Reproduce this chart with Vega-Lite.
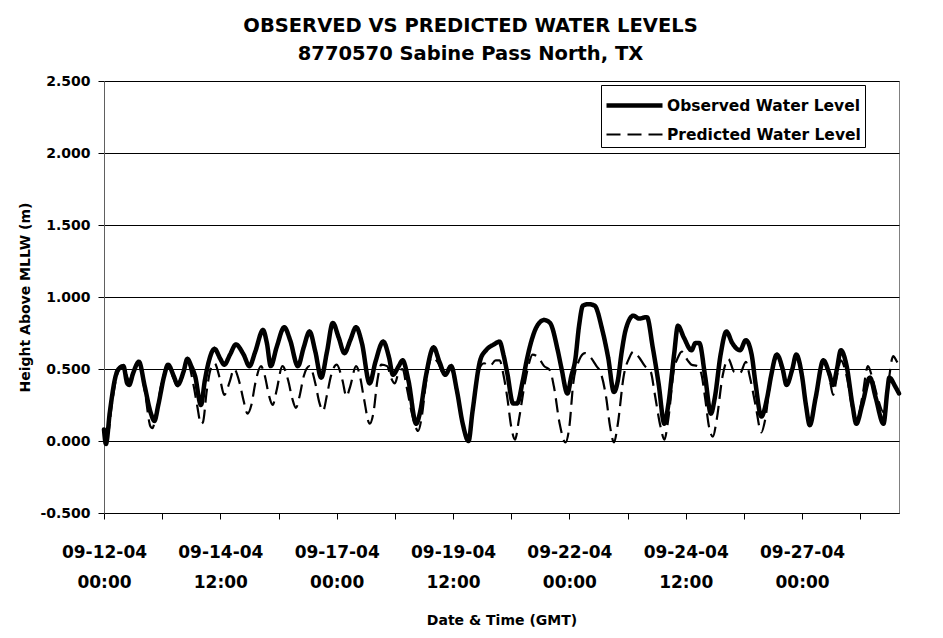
{
  "$schema": "https://vega.github.io/schema/vega-lite/v6.json",
  "width": 795,
  "height": 432,
  "autosize": {"type": "none"},
  "padding": {"left": 104, "top": 81, "right": 44, "bottom": 125},
  "background": "white",
  "config": {
    "font": "DejaVu Sans",
    "view": {"stroke": "#808080", "strokeWidth": 1}
  },
  "title": {
    "text": ["OBSERVED VS PREDICTED WATER LEVELS", "8770570 Sabine Pass North, TX"],
    "font": "DejaVu Sans",
    "fontSize": 19.5,
    "fontWeight": "bold",
    "color": "black",
    "lineHeight": 28,
    "anchor": "middle",
    "dx": -31,
    "offset": 10
  },
  "data": {"values": [
    {"s":"O","t":"2004-09-12T00:00Z","v":0.08},{"s":"O","t":"2004-09-12T01:00Z","v":-0.02},{"s":"O","t":"2004-09-12T03:00Z","v":0.20},{"s":"O","t":"2004-09-12T06:00Z","v":0.45},{"s":"O","t":"2004-09-12T07:00Z","v":0.49},{"s":"O","t":"2004-09-12T10:00Z","v":0.52},{"s":"O","t":"2004-09-12T12:00Z","v":0.40},{"s":"O","t":"2004-09-12T13:00Z","v":0.39},{"s":"O","t":"2004-09-12T15:00Z","v":0.47},{"s":"O","t":"2004-09-12T18:00Z","v":0.55},{"s":"O","t":"2004-09-12T21:00Z","v":0.38},
    {"s":"O","t":"2004-09-13T00:00Z","v":0.20},{"s":"O","t":"2004-09-13T02:00Z","v":0.14},{"s":"O","t":"2004-09-13T04:00Z","v":0.25},{"s":"O","t":"2004-09-13T07:00Z","v":0.45},{"s":"O","t":"2004-09-13T09:00Z","v":0.53},{"s":"O","t":"2004-09-13T12:00Z","v":0.45},{"s":"O","t":"2004-09-13T14:00Z","v":0.39},{"s":"O","t":"2004-09-13T17:00Z","v":0.48},{"s":"O","t":"2004-09-13T19:00Z","v":0.57},{"s":"O","t":"2004-09-13T21:00Z","v":0.52},{"s":"O","t":"2004-09-13T23:00Z","v":0.45},
    {"s":"O","t":"2004-09-14T02:00Z","v":0.25},{"s":"O","t":"2004-09-14T04:00Z","v":0.42},{"s":"O","t":"2004-09-14T06:00Z","v":0.55},{"s":"O","t":"2004-09-14T09:00Z","v":0.64},{"s":"O","t":"2004-09-14T12:00Z","v":0.57},{"s":"O","t":"2004-09-14T14:00Z","v":0.53},{"s":"O","t":"2004-09-14T17:00Z","v":0.60},{"s":"O","t":"2004-09-14T20:00Z","v":0.67},
    {"s":"O","t":"2004-09-15T00:00Z","v":0.60},{"s":"O","t":"2004-09-15T03:00Z","v":0.52},{"s":"O","t":"2004-09-15T06:00Z","v":0.62},{"s":"O","t":"2004-09-15T10:00Z","v":0.77},{"s":"O","t":"2004-09-15T12:00Z","v":0.68},{"s":"O","t":"2004-09-15T14:00Z","v":0.52},{"s":"O","t":"2004-09-15T17:00Z","v":0.65},{"s":"O","t":"2004-09-15T21:00Z","v":0.79},
    {"s":"O","t":"2004-09-16T00:00Z","v":0.70},{"s":"O","t":"2004-09-16T04:00Z","v":0.52},{"s":"O","t":"2004-09-16T07:00Z","v":0.65},{"s":"O","t":"2004-09-16T10:00Z","v":0.76},{"s":"O","t":"2004-09-16T13:00Z","v":0.62},{"s":"O","t":"2004-09-16T16:00Z","v":0.44},{"s":"O","t":"2004-09-16T19:00Z","v":0.62},{"s":"O","t":"2004-09-16T22:00Z","v":0.82},
    {"s":"O","t":"2004-09-17T01:00Z","v":0.72},{"s":"O","t":"2004-09-17T04:00Z","v":0.61},{"s":"O","t":"2004-09-17T07:00Z","v":0.70},{"s":"O","t":"2004-09-17T10:00Z","v":0.79},{"s":"O","t":"2004-09-17T13:00Z","v":0.68},{"s":"O","t":"2004-09-17T17:00Z","v":0.40},{"s":"O","t":"2004-09-17T20:00Z","v":0.55},
    {"s":"O","t":"2004-09-18T00:00Z","v":0.69},{"s":"O","t":"2004-09-18T03:00Z","v":0.58},{"s":"O","t":"2004-09-18T05:00Z","v":0.46},{"s":"O","t":"2004-09-18T08:00Z","v":0.52},{"s":"O","t":"2004-09-18T10:00Z","v":0.56},{"s":"O","t":"2004-09-18T13:00Z","v":0.42},{"s":"O","t":"2004-09-18T17:00Z","v":0.12},{"s":"O","t":"2004-09-18T19:00Z","v":0.20},{"s":"O","t":"2004-09-18T22:00Z","v":0.45},
    {"s":"O","t":"2004-09-19T02:00Z","v":0.65},{"s":"O","t":"2004-09-19T05:00Z","v":0.55},{"s":"O","t":"2004-09-19T08:00Z","v":0.46},{"s":"O","t":"2004-09-19T11:00Z","v":0.52},{"s":"O","t":"2004-09-19T14:00Z","v":0.35},{"s":"O","t":"2004-09-19T17:00Z","v":0.12},{"s":"O","t":"2004-09-19T20:00Z","v":0.00},{"s":"O","t":"2004-09-19T22:00Z","v":0.20},
    {"s":"O","t":"2004-09-20T02:00Z","v":0.56},{"s":"O","t":"2004-09-20T05:00Z","v":0.63},{"s":"O","t":"2004-09-20T09:00Z","v":0.67},{"s":"O","t":"2004-09-20T12:00Z","v":0.69},{"s":"O","t":"2004-09-20T14:00Z","v":0.60},{"s":"O","t":"2004-09-20T16:00Z","v":0.47},{"s":"O","t":"2004-09-20T19:00Z","v":0.26},{"s":"O","t":"2004-09-20T21:00Z","v":0.26},
    {"s":"O","t":"2004-09-21T00:00Z","v":0.42},{"s":"O","t":"2004-09-21T02:00Z","v":0.56},{"s":"O","t":"2004-09-21T05:00Z","v":0.72},{"s":"O","t":"2004-09-21T07:00Z","v":0.79},{"s":"O","t":"2004-09-21T11:00Z","v":0.84},{"s":"O","t":"2004-09-21T14:00Z","v":0.82},{"s":"O","t":"2004-09-21T18:00Z","v":0.63},{"s":"O","t":"2004-09-21T20:00Z","v":0.50},{"s":"O","t":"2004-09-21T23:00Z","v":0.33},
    {"s":"O","t":"2004-09-22T01:00Z","v":0.45},{"s":"O","t":"2004-09-22T03:00Z","v":0.56},{"s":"O","t":"2004-09-22T05:00Z","v":0.80},{"s":"O","t":"2004-09-22T07:00Z","v":0.94},{"s":"O","t":"2004-09-22T10:00Z","v":0.95},{"s":"O","t":"2004-09-22T13:00Z","v":0.94},{"s":"O","t":"2004-09-22T17:00Z","v":0.77},{"s":"O","t":"2004-09-22T20:00Z","v":0.58},{"s":"O","t":"2004-09-22T23:00Z","v":0.34},
    {"s":"O","t":"2004-09-23T01:00Z","v":0.42},{"s":"O","t":"2004-09-23T03:00Z","v":0.62},{"s":"O","t":"2004-09-23T05:00Z","v":0.77},{"s":"O","t":"2004-09-23T09:00Z","v":0.87},{"s":"O","t":"2004-09-23T12:00Z","v":0.85},{"s":"O","t":"2004-09-23T16:00Z","v":0.86},{"s":"O","t":"2004-09-23T19:00Z","v":0.65},{"s":"O","t":"2004-09-23T22:00Z","v":0.40},
    {"s":"O","t":"2004-09-24T01:00Z","v":0.12},{"s":"O","t":"2004-09-24T03:00Z","v":0.25},{"s":"O","t":"2004-09-24T06:00Z","v":0.60},{"s":"O","t":"2004-09-24T08:00Z","v":0.80},{"s":"O","t":"2004-09-24T11:00Z","v":0.72},{"s":"O","t":"2004-09-24T15:00Z","v":0.63},{"s":"O","t":"2004-09-24T17:00Z","v":0.68},{"s":"O","t":"2004-09-24T19:00Z","v":0.68},{"s":"O","t":"2004-09-24T22:00Z","v":0.45},
    {"s":"O","t":"2004-09-25T01:00Z","v":0.19},{"s":"O","t":"2004-09-25T03:00Z","v":0.30},{"s":"O","t":"2004-09-25T06:00Z","v":0.60},{"s":"O","t":"2004-09-25T09:00Z","v":0.76},{"s":"O","t":"2004-09-25T12:00Z","v":0.68},{"s":"O","t":"2004-09-25T16:00Z","v":0.63},{"s":"O","t":"2004-09-25T19:00Z","v":0.70},{"s":"O","t":"2004-09-25T22:00Z","v":0.60},
    {"s":"O","t":"2004-09-26T00:00Z","v":0.40},{"s":"O","t":"2004-09-26T03:00Z","v":0.17},{"s":"O","t":"2004-09-26T06:00Z","v":0.30},{"s":"O","t":"2004-09-26T08:00Z","v":0.45},{"s":"O","t":"2004-09-26T11:00Z","v":0.60},{"s":"O","t":"2004-09-26T14:00Z","v":0.50},{"s":"O","t":"2004-09-26T16:00Z","v":0.39},{"s":"O","t":"2004-09-26T19:00Z","v":0.50},{"s":"O","t":"2004-09-26T21:00Z","v":0.60},
    {"s":"O","t":"2004-09-27T00:00Z","v":0.45},{"s":"O","t":"2004-09-27T02:00Z","v":0.25},{"s":"O","t":"2004-09-27T04:00Z","v":0.11},{"s":"O","t":"2004-09-27T07:00Z","v":0.30},{"s":"O","t":"2004-09-27T11:00Z","v":0.56},{"s":"O","t":"2004-09-27T14:00Z","v":0.47},{"s":"O","t":"2004-09-27T16:00Z","v":0.39},{"s":"O","t":"2004-09-27T18:00Z","v":0.50},{"s":"O","t":"2004-09-27T20:00Z","v":0.63},{"s":"O","t":"2004-09-27T23:00Z","v":0.52},
    {"s":"O","t":"2004-09-28T02:00Z","v":0.25},{"s":"O","t":"2004-09-28T04:00Z","v":0.12},{"s":"O","t":"2004-09-28T07:00Z","v":0.25},{"s":"O","t":"2004-09-28T11:00Z","v":0.44},{"s":"O","t":"2004-09-28T14:00Z","v":0.30},{"s":"O","t":"2004-09-28T18:00Z","v":0.12},{"s":"O","t":"2004-09-28T20:00Z","v":0.35},{"s":"O","t":"2004-09-28T21:00Z","v":0.44},
    {"s":"O","t":"2004-09-29T00:00Z","v":0.38},{"s":"O","t":"2004-09-29T02:00Z","v":0.33},

    {"s":"P","t":"2004-09-12T00:00Z","v":0.05},{"s":"P","t":"2004-09-12T02:00Z","v":0.05},{"s":"P","t":"2004-09-12T04:00Z","v":0.25},{"s":"P","t":"2004-09-12T07:00Z","v":0.47},{"s":"P","t":"2004-09-12T10:00Z","v":0.52},{"s":"P","t":"2004-09-12T13:00Z","v":0.42},{"s":"P","t":"2004-09-12T15:00Z","v":0.48},{"s":"P","t":"2004-09-12T18:00Z","v":0.54},{"s":"P","t":"2004-09-12T21:00Z","v":0.35},
    {"s":"P","t":"2004-09-13T00:00Z","v":0.10},{"s":"P","t":"2004-09-13T01:00Z","v":0.09},{"s":"P","t":"2004-09-13T03:00Z","v":0.20},{"s":"P","t":"2004-09-13T06:00Z","v":0.42},{"s":"P","t":"2004-09-13T09:00Z","v":0.52},{"s":"P","t":"2004-09-13T12:00Z","v":0.43},{"s":"P","t":"2004-09-13T14:00Z","v":0.38},{"s":"P","t":"2004-09-13T17:00Z","v":0.48},{"s":"P","t":"2004-09-13T19:00Z","v":0.55},{"s":"P","t":"2004-09-13T22:00Z","v":0.40},
    {"s":"P","t":"2004-09-14T00:00Z","v":0.25},{"s":"P","t":"2004-09-14T02:00Z","v":0.12},{"s":"P","t":"2004-09-14T03:00Z","v":0.13},{"s":"P","t":"2004-09-14T05:00Z","v":0.35},{"s":"P","t":"2004-09-14T07:00Z","v":0.50},{"s":"P","t":"2004-09-14T09:00Z","v":0.54},{"s":"P","t":"2004-09-14T12:00Z","v":0.42},{"s":"P","t":"2004-09-14T14:00Z","v":0.32},{"s":"P","t":"2004-09-14T17:00Z","v":0.42},{"s":"P","t":"2004-09-14T19:00Z","v":0.50},{"s":"P","t":"2004-09-14T22:00Z","v":0.40},
    {"s":"P","t":"2004-09-15T00:00Z","v":0.28},{"s":"P","t":"2004-09-15T02:00Z","v":0.19},{"s":"P","t":"2004-09-15T04:00Z","v":0.25},{"s":"P","t":"2004-09-15T06:00Z","v":0.40},{"s":"P","t":"2004-09-15T09:00Z","v":0.52},{"s":"P","t":"2004-09-15T11:00Z","v":0.45},{"s":"P","t":"2004-09-15T13:00Z","v":0.32},{"s":"P","t":"2004-09-15T15:00Z","v":0.25},{"s":"P","t":"2004-09-15T17:00Z","v":0.35},{"s":"P","t":"2004-09-15T20:00Z","v":0.52},{"s":"P","t":"2004-09-15T23:00Z","v":0.42},
    {"s":"P","t":"2004-09-16T01:00Z","v":0.30},{"s":"P","t":"2004-09-16T03:00Z","v":0.23},{"s":"P","t":"2004-09-16T05:00Z","v":0.32},{"s":"P","t":"2004-09-16T07:00Z","v":0.45},{"s":"P","t":"2004-09-16T10:00Z","v":0.52},{"s":"P","t":"2004-09-16T13:00Z","v":0.40},{"s":"P","t":"2004-09-16T15:00Z","v":0.27},{"s":"P","t":"2004-09-16T17:00Z","v":0.21},{"s":"P","t":"2004-09-16T19:00Z","v":0.32},{"s":"P","t":"2004-09-16T21:00Z","v":0.45},
    {"s":"P","t":"2004-09-17T00:00Z","v":0.53},{"s":"P","t":"2004-09-17T03:00Z","v":0.42},{"s":"P","t":"2004-09-17T05:00Z","v":0.31},{"s":"P","t":"2004-09-17T07:00Z","v":0.38},{"s":"P","t":"2004-09-17T10:00Z","v":0.52},{"s":"P","t":"2004-09-17T12:00Z","v":0.45},{"s":"P","t":"2004-09-17T14:00Z","v":0.30},{"s":"P","t":"2004-09-17T17:00Z","v":0.12},{"s":"P","t":"2004-09-17T19:00Z","v":0.20},{"s":"P","t":"2004-09-17T21:00Z","v":0.42},{"s":"P","t":"2004-09-17T23:00Z","v":0.53},
    {"s":"P","t":"2004-09-18T02:00Z","v":0.52},{"s":"P","t":"2004-09-18T04:00Z","v":0.44},{"s":"P","t":"2004-09-18T06:00Z","v":0.40},{"s":"P","t":"2004-09-18T08:00Z","v":0.48},{"s":"P","t":"2004-09-18T10:00Z","v":0.50},{"s":"P","t":"2004-09-18T12:00Z","v":0.38},{"s":"P","t":"2004-09-18T15:00Z","v":0.18},{"s":"P","t":"2004-09-18T18:00Z","v":0.07},{"s":"P","t":"2004-09-18T20:00Z","v":0.18},{"s":"P","t":"2004-09-18T22:00Z","v":0.40},
    {"s":"P","t":"2004-09-19T01:00Z","v":0.58},{"s":"P","t":"2004-09-19T04:00Z","v":0.55},{"s":"P","t":"2004-09-19T07:00Z","v":0.47},{"s":"P","t":"2004-09-19T11:00Z","v":0.50},{"s":"P","t":"2004-09-19T14:00Z","v":0.33},{"s":"P","t":"2004-09-19T17:00Z","v":0.12},{"s":"P","t":"2004-09-19T20:00Z","v":0.00},{"s":"P","t":"2004-09-19T22:00Z","v":0.18},
    {"s":"P","t":"2004-09-20T01:00Z","v":0.48},{"s":"P","t":"2004-09-20T04:00Z","v":0.54},{"s":"P","t":"2004-09-20T07:00Z","v":0.52},{"s":"P","t":"2004-09-20T10:00Z","v":0.56},{"s":"P","t":"2004-09-20T12:00Z","v":0.56},{"s":"P","t":"2004-09-20T14:00Z","v":0.46},{"s":"P","t":"2004-09-20T16:00Z","v":0.30},{"s":"P","t":"2004-09-20T18:00Z","v":0.10},{"s":"P","t":"2004-09-20T20:00Z","v":0.01},{"s":"P","t":"2004-09-20T22:00Z","v":0.15},
    {"s":"P","t":"2004-09-21T01:00Z","v":0.40},{"s":"P","t":"2004-09-21T03:00Z","v":0.53},{"s":"P","t":"2004-09-21T05:00Z","v":0.60},{"s":"P","t":"2004-09-21T08:00Z","v":0.58},{"s":"P","t":"2004-09-21T11:00Z","v":0.52},{"s":"P","t":"2004-09-21T14:00Z","v":0.49},{"s":"P","t":"2004-09-21T16:00Z","v":0.38},{"s":"P","t":"2004-09-21T19:00Z","v":0.12},{"s":"P","t":"2004-09-21T22:00Z","v":-0.01},
    {"s":"P","t":"2004-09-22T00:00Z","v":0.10},{"s":"P","t":"2004-09-22T02:00Z","v":0.40},{"s":"P","t":"2004-09-22T05:00Z","v":0.56},{"s":"P","t":"2004-09-22T08:00Z","v":0.61},{"s":"P","t":"2004-09-22T11:00Z","v":0.58},{"s":"P","t":"2004-09-22T14:00Z","v":0.52},{"s":"P","t":"2004-09-22T16:00Z","v":0.48},{"s":"P","t":"2004-09-22T19:00Z","v":0.30},{"s":"P","t":"2004-09-22T21:00Z","v":0.10},{"s":"P","t":"2004-09-22T23:00Z","v":-0.01},
    {"s":"P","t":"2004-09-23T01:00Z","v":0.12},{"s":"P","t":"2004-09-23T04:00Z","v":0.45},{"s":"P","t":"2004-09-23T07:00Z","v":0.58},{"s":"P","t":"2004-09-23T09:00Z","v":0.62},{"s":"P","t":"2004-09-23T12:00Z","v":0.58},{"s":"P","t":"2004-09-23T15:00Z","v":0.52},{"s":"P","t":"2004-09-23T18:00Z","v":0.48},{"s":"P","t":"2004-09-23T20:00Z","v":0.33},{"s":"P","t":"2004-09-23T23:00Z","v":0.10},
    {"s":"P","t":"2004-09-24T01:00Z","v":0.01},{"s":"P","t":"2004-09-24T03:00Z","v":0.15},{"s":"P","t":"2004-09-24T06:00Z","v":0.50},{"s":"P","t":"2004-09-24T08:00Z","v":0.58},{"s":"P","t":"2004-09-24T10:00Z","v":0.62},{"s":"P","t":"2004-09-24T13:00Z","v":0.56},{"s":"P","t":"2004-09-24T15:00Z","v":0.53},{"s":"P","t":"2004-09-24T18:00Z","v":0.52},{"s":"P","t":"2004-09-24T20:00Z","v":0.47},{"s":"P","t":"2004-09-24T22:00Z","v":0.30},
    {"s":"P","t":"2004-09-25T00:00Z","v":0.10},{"s":"P","t":"2004-09-25T02:00Z","v":0.03},{"s":"P","t":"2004-09-25T04:00Z","v":0.15},{"s":"P","t":"2004-09-25T07:00Z","v":0.45},{"s":"P","t":"2004-09-25T10:00Z","v":0.57},{"s":"P","t":"2004-09-25T13:00Z","v":0.48},{"s":"P","t":"2004-09-25T16:00Z","v":0.47},{"s":"P","t":"2004-09-25T19:00Z","v":0.55},{"s":"P","t":"2004-09-25T21:00Z","v":0.45},
    {"s":"P","t":"2004-09-26T00:00Z","v":0.25},{"s":"P","t":"2004-09-26T03:00Z","v":0.06},{"s":"P","t":"2004-09-26T05:00Z","v":0.15},{"s":"P","t":"2004-09-26T08:00Z","v":0.45},{"s":"P","t":"2004-09-26T11:00Z","v":0.58},{"s":"P","t":"2004-09-26T14:00Z","v":0.48},{"s":"P","t":"2004-09-26T16:00Z","v":0.40},{"s":"P","t":"2004-09-26T19:00Z","v":0.50},{"s":"P","t":"2004-09-26T21:00Z","v":0.58},
    {"s":"P","t":"2004-09-27T00:00Z","v":0.43},{"s":"P","t":"2004-09-27T02:00Z","v":0.25},{"s":"P","t":"2004-09-27T04:00Z","v":0.10},{"s":"P","t":"2004-09-27T07:00Z","v":0.30},{"s":"P","t":"2004-09-27T11:00Z","v":0.55},{"s":"P","t":"2004-09-27T14:00Z","v":0.45},{"s":"P","t":"2004-09-27T16:00Z","v":0.32},{"s":"P","t":"2004-09-27T18:00Z","v":0.45},{"s":"P","t":"2004-09-27T20:00Z","v":0.56},{"s":"P","t":"2004-09-27T23:00Z","v":0.45},
    {"s":"P","t":"2004-09-28T02:00Z","v":0.22},{"s":"P","t":"2004-09-28T04:00Z","v":0.12},{"s":"P","t":"2004-09-28T07:00Z","v":0.30},{"s":"P","t":"2004-09-28T10:00Z","v":0.52},{"s":"P","t":"2004-09-28T12:00Z","v":0.45},{"s":"P","t":"2004-09-28T15:00Z","v":0.30},{"s":"P","t":"2004-09-28T18:00Z","v":0.20},{"s":"P","t":"2004-09-28T20:00Z","v":0.35},{"s":"P","t":"2004-09-28T23:00Z","v":0.59},
    {"s":"P","t":"2004-09-29T01:00Z","v":0.55},{"s":"P","t":"2004-09-29T02:00Z","v":0.53}
  ]},
  "encoding": {
    "x": {
      "field": "t",
      "type": "temporal",
      "scale": {
        "type": "utc",
        "domain": [
          {"year": 2004, "month": 9, "date": 12, "hours": 0, "utc": true},
          {"year": 2004, "month": 9, "date": 29, "hours": 2, "utc": true}
        ]
      },
      "axis": {
        "title": "Date & Time (GMT)",
        "titleFont": "DejaVu Sans",
        "titleFontSize": 14,
        "titleFontWeight": "bold",
        "titleColor": "black",
        "titleY": 107,
        "titleBaseline": "middle",
        "values": [
          {"year": 2004, "month": 9, "date": 12, "hours": 0, "utc": true},
          {"year": 2004, "month": 9, "date": 13, "hours": 6, "utc": true},
          {"year": 2004, "month": 9, "date": 14, "hours": 12, "utc": true},
          {"year": 2004, "month": 9, "date": 15, "hours": 18, "utc": true},
          {"year": 2004, "month": 9, "date": 17, "hours": 0, "utc": true},
          {"year": 2004, "month": 9, "date": 18, "hours": 6, "utc": true},
          {"year": 2004, "month": 9, "date": 19, "hours": 12, "utc": true},
          {"year": 2004, "month": 9, "date": 20, "hours": 18, "utc": true},
          {"year": 2004, "month": 9, "date": 22, "hours": 0, "utc": true},
          {"year": 2004, "month": 9, "date": 23, "hours": 6, "utc": true},
          {"year": 2004, "month": 9, "date": 24, "hours": 12, "utc": true},
          {"year": 2004, "month": 9, "date": 25, "hours": 18, "utc": true},
          {"year": 2004, "month": 9, "date": 27, "hours": 0, "utc": true},
          {"year": 2004, "month": 9, "date": 28, "hours": 6, "utc": true}
        ],
        "labelExpr": "(datum.value - utc(2004, 8, 12)) % 216000000 === 0 ? [utcFormat(datum.value, '%m-%d-%y'), utcFormat(datum.value, '%H:%M')] : ''",
        "labelFont": "DejaVu Sans",
        "labelFontSize": 17,
        "labelFontWeight": "bold",
        "labelColor": "black",
        "labelLineHeight": 30,
        "labelPadding": 25,
        "labelOverlap": false,
        "labelFlush": false,
        "grid": false,
        "domainColor": "black",
        "tickColor": "black",
        "tickSize": 6
      }
    },
    "y": {
      "field": "v",
      "type": "quantitative",
      "scale": {"domain": [-0.5, 2.5], "nice": false, "zero": false},
      "axis": {
        "title": "Height Above MLLW (m)",
        "titleFont": "DejaVu Sans",
        "titleFontSize": 14,
        "titleFontWeight": "bold",
        "titleColor": "black",
        "titleX": -79,
        "titleY": 216,
        "titleAngle": -90,
        "titleBaseline": "middle",
        "values": [-0.5, 0, 0.5, 1, 1.5, 2, 2.5],
        "labelExpr": "datum.value < 0 ? '-' + format(-datum.value, '.3f') : format(datum.value, '.3f')",
        "labelFont": "DejaVu Sans",
        "labelFontSize": 14,
        "labelFontWeight": "bold",
        "labelColor": "black",
        "labelPadding": 8,
        "grid": true,
        "gridColor": "black",
        "gridWidth": 1,
        "domainColor": "#606060",
        "tickColor": "black",
        "tickSize": 6
      }
    },
    "strokeDash": {
      "field": "s",
      "type": "nominal",
      "scale": {"domain": ["O", "P"], "range": [[1, 0], [14, 7]]},
      "legend": {
        "title": null,
        "orient": "none",
        "legendX": 497,
        "legendY": 4,
        "direction": "vertical",
        "fillColor": "white",
        "strokeColor": "black",
        "padding": 4,
        "rowPadding": 4,
        "symbolType": "M-2,0H2",
        "symbolSize": 784,
        "symbolOffset": 13,
        "symbolStrokeColor": "black",
        "labelFont": "DejaVu Sans",
        "labelFontSize": 15.5,
        "labelFontWeight": "bold",
        "labelColor": "black",
        "labelOffset": 16,
        "labelLimit": 400,
        "labelExpr": "datum.label == 'O' ? 'Observed Water Level' : 'Predicted Water Level'"
      }
    },
    "strokeWidth": {
      "field": "s",
      "type": "nominal",
      "scale": {"domain": ["O", "P"], "range": [4.5, 2.2]},
      "legend": {
        "title": null,
        "orient": "none",
        "legendX": 497,
        "legendY": 4,
        "direction": "vertical",
        "fillColor": "white",
        "strokeColor": "black",
        "padding": 4,
        "rowPadding": 4,
        "symbolType": "M-2,0H2",
        "symbolSize": 784,
        "symbolOffset": 13,
        "symbolStrokeColor": "black",
        "labelFont": "DejaVu Sans",
        "labelFontSize": 15.5,
        "labelFontWeight": "bold",
        "labelColor": "black",
        "labelOffset": 16,
        "labelLimit": 400,
        "labelExpr": "datum.label == 'O' ? 'Observed Water Level' : 'Predicted Water Level'"
      }
    }
  },
  "layer": [
    {
      "transform": [{"filter": "datum.s == 'P'"}],
      "mark": {"type": "line", "color": "black", "interpolate": "monotone"}
    },
    {
      "transform": [{"filter": "datum.s == 'O'"}],
      "mark": {"type": "line", "color": "black", "interpolate": "monotone", "strokeJoin": "round", "strokeCap": "round"}
    }
  ]
}
